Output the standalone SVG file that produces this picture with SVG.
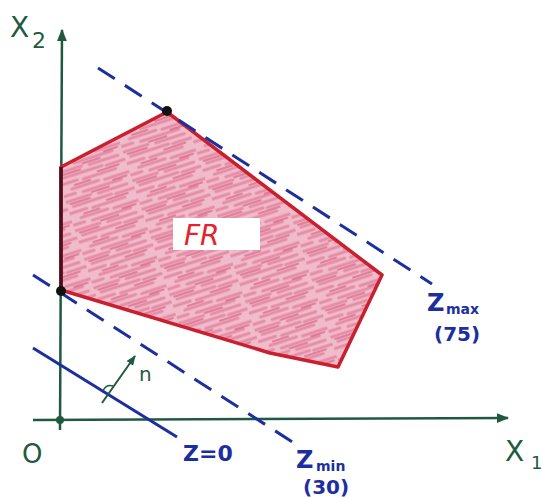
<svg xmlns="http://www.w3.org/2000/svg" width="543" height="498" viewBox="0 0 543 498">
<defs>
<style>
.ax{stroke:#1f5a40;stroke-width:2.5;fill:none}
.axt{fill:#1f5a40;font-family:"DejaVu Sans",sans-serif}
.bl{stroke:#1c2f9e;stroke-width:3;fill:none}
.dash{stroke-dasharray:20 12}
.bt{fill:#1c2f9e;font-family:"DejaVu Sans",sans-serif;font-weight:bold}
</style>
<pattern id="crayon" patternUnits="userSpaceOnUse" width="70" height="30" patternTransform="rotate(-18)">
<rect width="70" height="30" fill="#f0bccb"/>
<path d="M0 3h26M34 4h30M6 9h40M50 10h20M0 15h18M24 16h34M10 22h28M44 23h26M0 27h12M20 28h40" stroke="#dc6586" stroke-width="3.2" stroke-linecap="round" opacity="0.55"/>
<path d="M4 6h20M40 13h22M14 19h16M52 26h14M28 1h18" stroke="#c9385f" stroke-width="2" stroke-linecap="round" opacity="0.45"/>
</pattern>
<marker id="ah" viewBox="0 0 10 10" refX="9" refY="5" markerWidth="5" markerHeight="5" orient="auto"><path d="M0 1L10 5L0 9z" fill="#1f5a40"/></marker>
</defs>
<rect width="543" height="498" fill="#fff"/>
<g id="axes">
<path class="ax" d="M60 430 L62 30" marker-end="url(#ah)"/>
<path class="ax" d="M33 420 L508 418" marker-end="url(#ah)"/>
<circle cx="60" cy="420" r="4" fill="#1f5a40"/>
</g>
<g id="labels-axes">
<text class="axt" x="10" y="37" font-size="28">X</text>
<text class="axt" x="32" y="48" font-size="22">2</text>
<text class="axt" x="505" y="461" font-size="28">X</text>
<text class="axt" x="531" y="469" font-size="18">1</text>
<text class="axt" x="22" y="463" font-size="26">O</text>
</g>
<g id="FR">
<path d="M167 112 L61 167 L61 290 L270 353 L338 367 L382 275 Z" fill="url(#crayon)" stroke="#c8202e" stroke-width="3.5" stroke-linejoin="round"/>
<path d="M61 167 L61 290" stroke="#4a1020" stroke-width="3.5"/>
<rect x="173" y="218" width="87" height="32" fill="#fff"/>
<text x="184" y="245" font-family="DejaVu Sans,sans-serif" font-style="italic" font-size="28" fill="#e4232e">FR</text>
</g>
<g id="connectors">
<path class="bl dash" d="M98 68 L432 284"/>
<path class="bl dash" d="M33 275 L294 443"/>
<path class="bl" d="M33 348 L177 437"/>
<path d="M102 403 L135 356" stroke="#1f5a40" stroke-width="2" fill="none" marker-end="url(#ah)"/>
<path d="M103 391 Q106 384 113 386" stroke="#1f5a40" stroke-width="1.5" fill="none"/>
<circle cx="167" cy="111" r="5" fill="#111"/>
<circle cx="61" cy="291" r="5" fill="#111"/>
</g>
<g id="labels">
<text class="axt" x="139" y="381" font-size="20">n</text>
<text class="bt" x="183" y="461" font-size="22">Z=0</text>
<text class="bt" x="427" y="311" font-size="24">Z</text>
<text class="bt" x="446" y="314" font-size="14">max</text>
<text class="bt" x="434" y="341" font-size="20">(75)</text>
<text class="bt" x="296" y="468" font-size="24">Z</text>
<text class="bt" x="316" y="471" font-size="14">min</text>
<text class="bt" x="303" y="494" font-size="20">(30)</text>
</g>
</svg>
